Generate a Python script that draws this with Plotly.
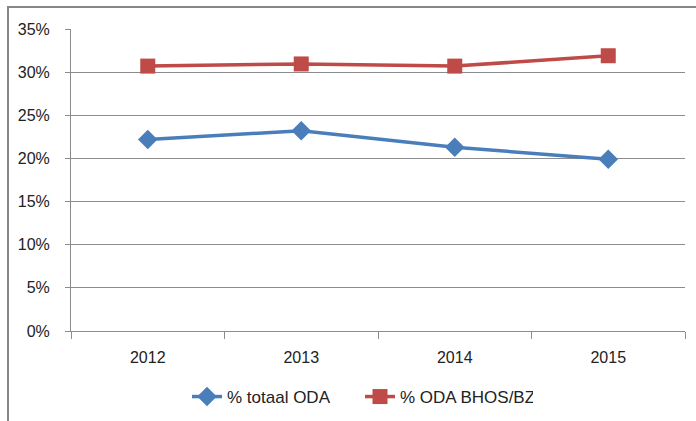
import plotly.graph_objects as go

years = ["2012", "2013", "2014", "2015"]
totaal_oda = [0.222, 0.232, 0.213, 0.199]
bhos_bz = [0.307, 0.3095, 0.307, 0.319]
y_ticks = [0, 0.05, 0.10, 0.15, 0.20, 0.25, 0.30, 0.35]

FONT = "Liberation Sans"
GRID = "#8c8c8c"

fig = go.Figure()
fig.add_trace(go.Scatter(
    x=years, y=totaal_oda, name="% totaal ODA", mode="lines+markers",
    line=dict(color="#4A7EBB", width=3.5),
    marker=dict(symbol="diamond", size=15, color="#4A7EBB"),
))
fig.add_trace(go.Scatter(
    x=years, y=bhos_bz, name="% ODA BHOS/BZ", mode="lines+markers",
    line=dict(color="#BE4B48", width=3.5),
    marker=dict(symbol="square", size=15, color="#BE4B48"),
))

L, R, T, B = 71, 11, 29, 90
pw = 696 - L - R
ph = 421 - T - B

fig.update_layout(
    width=696, height=421,
    margin=dict(l=L, r=R, t=T, b=B, autoexpand=False),
    paper_bgcolor="white", plot_bgcolor="white",
    font=dict(family=FONT, size=16, color="#222222"),
    showlegend=True,
    legend=dict(orientation="h", x=(360 - L) / pw, xanchor="center",
                y=(T + ph - 397) / ph, yanchor="middle",
                font=dict(size=17), tracegroupgap=0, entrywidth=128),
    xaxis=dict(
        type="category", showgrid=False, showline=True, linecolor=GRID,
        linewidth=1, ticks="outside", tickson="boundaries", ticklen=7,
        tickcolor=GRID, ticklabelstandoff=12, range=[-0.5, 3.5],
    ),
    yaxis=dict(
        range=[0, 0.35], tickvals=y_ticks, tickformat=".0%",
        showgrid=True, gridcolor=GRID, gridwidth=1, showline=True,
        linecolor=GRID, ticks="outside", ticklen=5, tickcolor=GRID,
        ticklabelstandoff=12, zeroline=False,
    ),
    shapes=[
        dict(type="rect", xref="paper", yref="paper",
             x0=(8 - L) / pw, x1=(720 - L) / pw,
             y0=(T + ph - 7) / ph, y1=(T + ph - 440) / ph,
             line=dict(color="#868686", width=2), fillcolor="rgba(0,0,0,0)",
             layer="above"),
    ],
)

fig.write_html("out.html", config={"displayModeBar": False},
               post_script="document.body.style.margin='0';")
